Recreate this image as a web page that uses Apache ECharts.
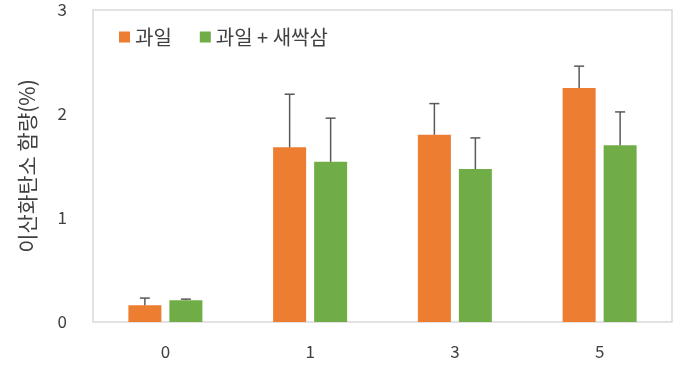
<!DOCTYPE html>
<html><head><meta charset="utf-8">
<script src="https://cdn.jsdelivr.net/npm/echarts@6/dist/echarts.min.js"></script>
<style>html,body{margin:0;padding:0;background:#fff}#c{width:680px;height:365px}</style>
</head><body><div id="c"></div>
<script>
const categories = ['0', '1', '3', '5'];
const fruit = [0.16, 1.68, 1.80, 2.25];
const fruitErr = [0.07, 0.51, 0.30, 0.21];
const mix = [0.21, 1.54, 1.47, 1.70];
const mixErr = [0.01, 0.42, 0.30, 0.32];
const seriesNames = ['과일', '과일 + 새싹삼'];
const yTicks = [0, 1, 2, 3];

const BW = 33, GAP = 8;
const font = '"Noto Sans CJK KR", "Noto Sans", sans-serif';

function errSeries(vals, errs, side) {
  return {
    type: 'custom',
    silent: true,
    z: 5,
    data: vals.map((v, i) => [i, v, v + errs[i]]),
    renderItem: function (params, api) {
      const off = side * (BW + GAP) / 2;
      const p0 = api.coord([api.value(0), api.value(1)]);
      const p1 = api.coord([api.value(0), api.value(2)]);
      const x = p0[0] + off;
      const style = { stroke: '#595959', lineWidth: 1.5 };
      return {
        type: 'group',
        children: [
          { type: 'line', shape: { x1: x, y1: p0[1], x2: x, y2: p1[1] }, style: style },
          { type: 'line', shape: { x1: x - 5, y1: p1[1], x2: x + 5, y2: p1[1] }, style: style }
        ]
      };
    }
  };
}

const chart = echarts.init(document.getElementById('c'));
chart.setOption({
  animation: false,
  textStyle: { fontFamily: font },
  grid: { left: 93, right: 8, top: 10, bottom: 43, show: true, borderColor: '#d9d9d9', borderWidth: 1.5 },
  legend: {
    data: seriesNames,
    left: 114, top: 22,
    itemWidth: 11, itemHeight: 11, itemGap: 28,
    icon: 'rect',
    textStyle: { fontSize: 20, color: '#404040', fontFamily: font }
  },
  xAxis: {
    type: 'category',
    data: categories,
    axisLine: { show: false },
    axisTick: { show: false },
    axisLabel: { fontSize: 17, color: '#404040', margin: 21, fontFamily: font }
  },
  yAxis: {
    type: 'value',
    min: yTicks[0], max: yTicks[yTicks.length - 1], interval: 1,
    name: '이산화탄소 함량(%)',
    nameLocation: 'middle',
    nameGap: 55,
    nameTextStyle: { fontSize: 21, color: '#404040', fontFamily: font },
    axisLine: { show: false },
    axisTick: { show: false },
    splitLine: { show: false },
    axisLabel: { fontSize: 17, color: '#404040', margin: 26, fontFamily: font }
  },
  series: [
    { name: seriesNames[0], type: 'bar', data: fruit, barWidth: BW, barGap: (GAP / BW * 100) + '%', itemStyle: { color: '#ed7d31' } },
    { name: seriesNames[1], type: 'bar', data: mix, barWidth: BW, itemStyle: { color: '#70ad47' } },
    errSeries(fruit, fruitErr, -1),
    errSeries(mix, mixErr, 1)
  ]
});
</script></body></html>
